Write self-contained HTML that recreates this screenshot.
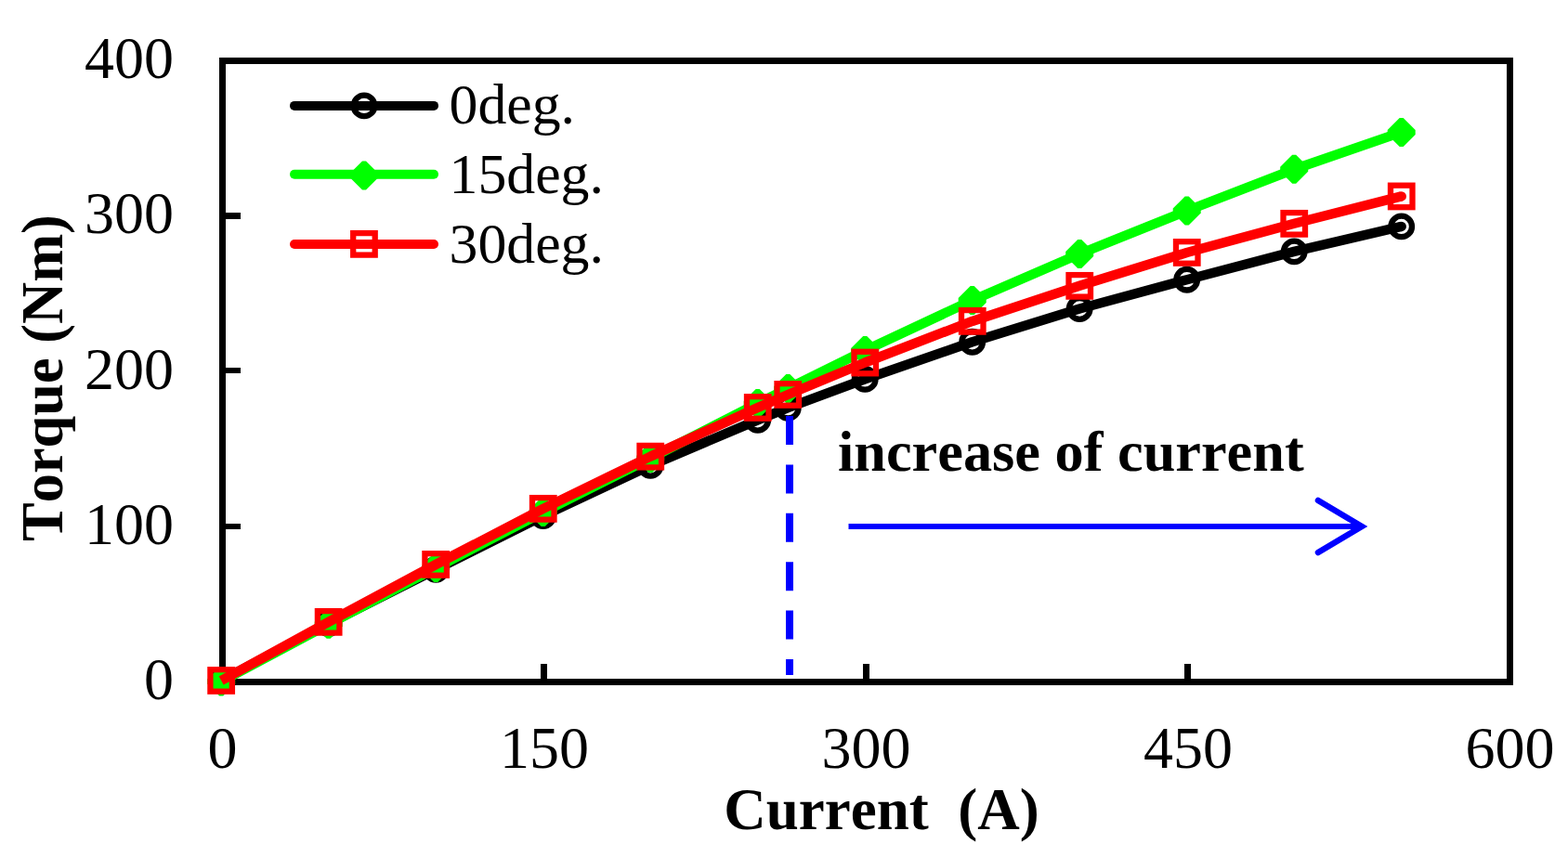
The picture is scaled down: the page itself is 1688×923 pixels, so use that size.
<!DOCTYPE html>
<html><head><meta charset="utf-8"><title>Torque vs Current</title>
<style>
html,body{margin:0;padding:0;background:#fff;}
body{width:1688px;height:923px;overflow:hidden;}
svg{display:block;}
.t{font-family:"Liberation Serif","Times New Roman",serif;font-size:64px;fill:#000;font-kerning:none;}
.b{font-family:"Liberation Serif","Times New Roman",serif;font-size:64px;font-weight:bold;fill:#000;font-kerning:none;}
</style></head><body>
<svg width="1688" height="923" viewBox="0 0 1688 923">
<rect width="1688" height="923" fill="#fff"/>
<rect x="239.5" y="65.5" width="1386" height="669" fill="none" stroke="#000" stroke-width="7"/>
<rect x="240" y="564" width="19" height="6" fill="#000"/>
<rect x="240" y="396" width="19" height="6" fill="#000"/>
<rect x="240" y="229" width="19" height="7" fill="#000"/>
<rect x="582" y="715" width="7" height="20" fill="#000"/>
<rect x="929" y="715" width="7" height="20" fill="#000"/>
<rect x="1275" y="715" width="7" height="20" fill="#000"/>
<polyline points="238.2,733.0 353.7,671.6 469.2,613.3 584.7,555.5 700.2,501.3 815.7,452.3 848.3,439.2 931.2,408.4 1046.7,368.3 1162.2,332.5 1277.7,301.2 1393.2,270.9 1508.7,243.9" fill="none" stroke="#000" stroke-width="10.5" stroke-linejoin="round"/>
<circle cx="1508.7" cy="243.9" r="5.25" fill="#000"/>
<circle cx="238.2" cy="733.0" r="11.3" fill="none" stroke="#000" stroke-width="6.3"/>
<circle cx="353.7" cy="671.6" r="11.3" fill="none" stroke="#000" stroke-width="6.3"/>
<circle cx="469.2" cy="613.3" r="11.3" fill="none" stroke="#000" stroke-width="6.3"/>
<circle cx="584.7" cy="555.5" r="11.3" fill="none" stroke="#000" stroke-width="6.3"/>
<circle cx="700.2" cy="501.3" r="11.3" fill="none" stroke="#000" stroke-width="6.3"/>
<circle cx="815.7" cy="452.3" r="11.3" fill="none" stroke="#000" stroke-width="6.3"/>
<circle cx="848.3" cy="439.2" r="11.3" fill="none" stroke="#000" stroke-width="6.3"/>
<circle cx="931.2" cy="408.4" r="11.3" fill="none" stroke="#000" stroke-width="6.3"/>
<circle cx="1046.7" cy="368.3" r="11.3" fill="none" stroke="#000" stroke-width="6.3"/>
<circle cx="1162.2" cy="332.5" r="11.3" fill="none" stroke="#000" stroke-width="6.3"/>
<circle cx="1277.7" cy="301.2" r="11.3" fill="none" stroke="#000" stroke-width="6.3"/>
<circle cx="1393.2" cy="270.9" r="11.3" fill="none" stroke="#000" stroke-width="6.3"/>
<circle cx="1508.7" cy="243.9" r="11.3" fill="none" stroke="#000" stroke-width="6.3"/>
<polyline points="238.2,734.0 353.7,672.3 469.2,611.5 584.7,551.5 700.2,493.5 815.7,434.5 848.3,418.5 931.2,377.4 1046.7,323.5 1162.2,273.5 1277.7,227.0 1393.2,182.3 1508.7,142.4" fill="none" stroke="#0f0" stroke-width="10.5" stroke-linejoin="round"/>
<circle cx="1508.7" cy="142.4" r="5.25" fill="#0f0"/>
<polygon points="236.2,718.5 240.2,718.5 253.2,731.5 253.2,736.5 240.2,749.5 236.2,749.5 223.2,736.5 223.2,731.5" fill="#0f0"/>
<polygon points="351.7,656.8 355.7,656.8 368.7,669.8 368.7,674.8 355.7,687.8 351.7,687.8 338.7,674.8 338.7,669.8" fill="#0f0"/>
<polygon points="467.2,596.0 471.2,596.0 484.2,609.0 484.2,614.0 471.2,627.0 467.2,627.0 454.2,614.0 454.2,609.0" fill="#0f0"/>
<polygon points="582.7,536.0 586.7,536.0 599.7,549.0 599.7,554.0 586.7,567.0 582.7,567.0 569.7,554.0 569.7,549.0" fill="#0f0"/>
<polygon points="698.2,478.0 702.2,478.0 715.2,491.0 715.2,496.0 702.2,509.0 698.2,509.0 685.2,496.0 685.2,491.0" fill="#0f0"/>
<polygon points="813.7,419.0 817.7,419.0 830.7,432.0 830.7,437.0 817.7,450.0 813.7,450.0 800.7,437.0 800.7,432.0" fill="#0f0"/>
<polygon points="846.3,403.0 850.3,403.0 863.3,416.0 863.3,421.0 850.3,434.0 846.3,434.0 833.3,421.0 833.3,416.0" fill="#0f0"/>
<polygon points="929.2,361.9 933.2,361.9 946.2,374.9 946.2,379.9 933.2,392.9 929.2,392.9 916.2,379.9 916.2,374.9" fill="#0f0"/>
<polygon points="1044.7,308.0 1048.7,308.0 1061.7,321.0 1061.7,326.0 1048.7,339.0 1044.7,339.0 1031.7,326.0 1031.7,321.0" fill="#0f0"/>
<polygon points="1160.2,258.0 1164.2,258.0 1177.2,271.0 1177.2,276.0 1164.2,289.0 1160.2,289.0 1147.2,276.0 1147.2,271.0" fill="#0f0"/>
<polygon points="1275.7,211.5 1279.7,211.5 1292.7,224.5 1292.7,229.5 1279.7,242.5 1275.7,242.5 1262.7,229.5 1262.7,224.5" fill="#0f0"/>
<polygon points="1391.2,166.8 1395.2,166.8 1408.2,179.8 1408.2,184.8 1395.2,197.8 1391.2,197.8 1378.2,184.8 1378.2,179.8" fill="#0f0"/>
<polygon points="1506.7,126.9 1510.7,126.9 1523.7,139.9 1523.7,144.9 1510.7,157.9 1506.7,157.9 1493.7,144.9 1493.7,139.9" fill="#0f0"/>
<polyline points="238.2,733.0 353.7,669.9 469.2,608.0 584.7,547.9 700.2,491.6 815.7,439.0 848.3,425.0 931.2,390.5 1046.7,345.9 1162.2,307.8 1277.7,272.0 1393.2,240.8 1508.7,211.4" fill="none" stroke="#f00" stroke-width="10.5" stroke-linejoin="round"/>
<circle cx="1508.7" cy="211.4" r="5.25" fill="#f00"/>
<rect x="226.4" y="721.2" width="23.5" height="23.5" fill="none" stroke="#f00" stroke-width="6.3"/>
<rect x="341.9" y="658.1" width="23.5" height="23.5" fill="none" stroke="#f00" stroke-width="6.3"/>
<rect x="457.4" y="596.2" width="23.5" height="23.5" fill="none" stroke="#f00" stroke-width="6.3"/>
<rect x="573.0" y="536.1" width="23.5" height="23.5" fill="none" stroke="#f00" stroke-width="6.3"/>
<rect x="688.5" y="479.9" width="23.5" height="23.5" fill="none" stroke="#f00" stroke-width="6.3"/>
<rect x="804.0" y="427.2" width="23.5" height="23.5" fill="none" stroke="#f00" stroke-width="6.3"/>
<rect x="836.5" y="413.2" width="23.5" height="23.5" fill="none" stroke="#f00" stroke-width="6.3"/>
<rect x="919.5" y="378.8" width="23.5" height="23.5" fill="none" stroke="#f00" stroke-width="6.3"/>
<rect x="1035.0" y="334.1" width="23.5" height="23.5" fill="none" stroke="#f00" stroke-width="6.3"/>
<rect x="1150.5" y="296.1" width="23.5" height="23.5" fill="none" stroke="#f00" stroke-width="6.3"/>
<rect x="1266.0" y="260.2" width="23.5" height="23.5" fill="none" stroke="#f00" stroke-width="6.3"/>
<rect x="1381.5" y="229.1" width="23.5" height="23.5" fill="none" stroke="#f00" stroke-width="6.3"/>
<rect x="1497.0" y="199.7" width="23.5" height="23.5" fill="none" stroke="#f00" stroke-width="6.3"/>
<line x1="850" y1="448" x2="850" y2="727" stroke="#00f" stroke-width="8" stroke-dasharray="31 21.4"/>
<line x1="317" y1="113.9" x2="467" y2="113.9" stroke="#000" stroke-width="10" stroke-linecap="round"/>
<circle cx="392.0" cy="113.9" r="11.3" fill="none" stroke="#000" stroke-width="6.3"/>
<line x1="317" y1="187.8" x2="467" y2="187.8" stroke="#0f0" stroke-width="10" stroke-linecap="round"/>
<polygon points="390.0,173.5 394.0,173.5 407.0,186.5 407.0,191.5 394.0,204.5 390.0,204.5 377.0,191.5 377.0,186.5" fill="#0f0"/>
<line x1="317" y1="263.0" x2="467" y2="263.0" stroke="#f00" stroke-width="10" stroke-linecap="round"/>
<rect x="380.2" y="251.1" width="23.5" height="23.5" fill="none" stroke="#f00" stroke-width="6.3"/>
<line x1="913.5" y1="567" x2="1466" y2="567" stroke="#00f" stroke-width="6"/>
<polyline points="1419,539 1466,567 1419,595" fill="none" stroke="#00f" stroke-width="6.5" stroke-linecap="round" stroke-linejoin="miter"/>
<text x="187" y="753.0" text-anchor="end" class="t">0</text>
<text x="187" y="585.8" text-anchor="end" class="t">100</text>
<text x="187" y="418.5" text-anchor="end" class="t">200</text>
<text x="187" y="251.2" text-anchor="end" class="t">300</text>
<text x="187" y="84.0" text-anchor="end" class="t">400</text>
<text x="239.5" y="827" text-anchor="middle" class="t">0</text>
<text x="586.0" y="827" text-anchor="middle" class="t">150</text>
<text x="932.5" y="827" text-anchor="middle" class="t">300</text>
<text x="1279.0" y="827" text-anchor="middle" class="t">450</text>
<text x="1625.5" y="827" text-anchor="middle" class="t">600</text>
<text x="483.5" y="133.0" class="t" style="font-size:61.8px">0deg.</text>
<text x="483.5" y="208.2" class="t" style="font-size:61.8px">15deg.</text>
<text x="483.5" y="282.6" class="t" style="font-size:61.8px">30deg.</text>
<text x="949" y="892.5" text-anchor="middle" class="b" style="font-size:63px">Current&#160; (A)</text>
<text transform="translate(66.5,407) rotate(-90)" text-anchor="middle" class="b" style="font-size:62.4px">Torque (Nm)</text>
<text x="902" y="507" class="b" style="font-size:62.3px">increase of current</text>
</svg>
</body></html>
